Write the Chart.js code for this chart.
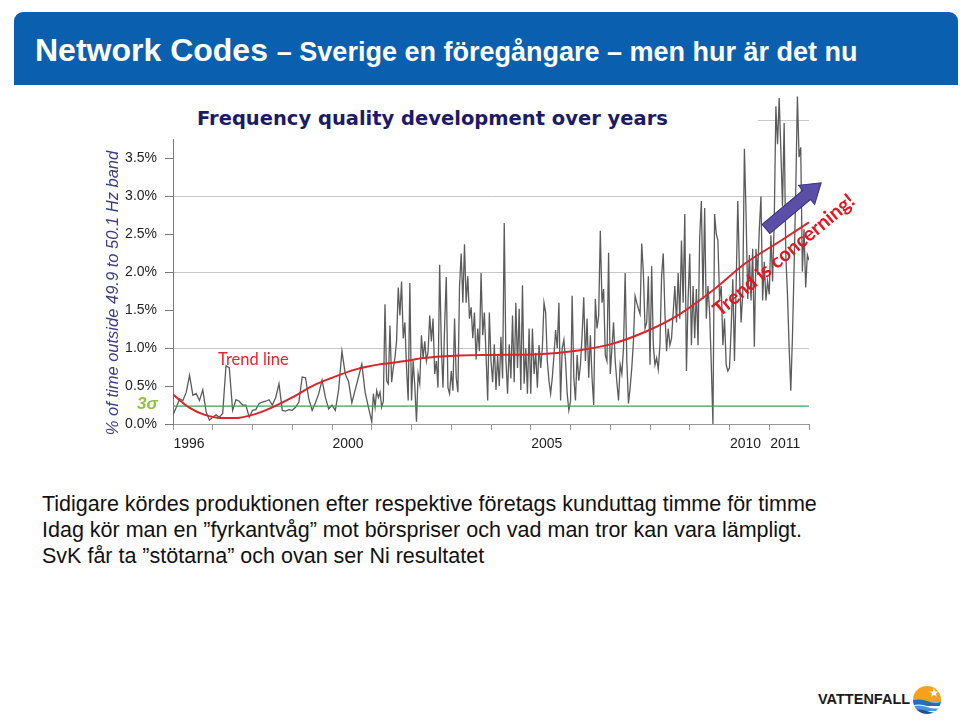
<!DOCTYPE html>
<html lang="sv">
<head>
<meta charset="utf-8">
<title>Network Codes – Sverige en föregångare</title>
<script src="https://cdn.jsdelivr.net/npm/chart.js@4.4.1/dist/chart.umd.min.js"></script>
<style>
  html, body { margin: 0; padding: 0; background: #fff; }
  body { width: 960px; height: 727px; position: relative; overflow: hidden; font-family: "Liberation Sans", Arial, sans-serif; }
  #header { position: absolute; left: 14px; top: 12px; width: 944px; height: 73px; background: #0a5fae; border-radius: 9px 9px 0 0; z-index: 5; color: #fff; }
  #header h1 { margin: 0; position: absolute; left: 21px; top: 20px; font-size: 32px; line-height: 37px; font-weight: bold; white-space: nowrap; }
  #header h1 span { font-size: 27px; }
  #chartBox { position: absolute; left: 0; top: 74px; width: 960px; height: 390px; }
  #chartMask { position: absolute; left: 95px; top: 84px; width: 663px; height: 55px; background: #fff; z-index: 2; }
  #chartTitle { position: absolute; left: 102px; top: 23px; margin: 0; font: bold 19.5px "DejaVu Sans", Verdana, sans-serif; color: #1d1a66; white-space: nowrap; line-height: 24px; }
  .note { position: absolute; white-space: nowrap; z-index: 3; }
  #yTitle { left: -38px; top: 283px; width: 300px; text-align: center; font: italic 16.5px "Liberation Sans", sans-serif; color: #3b3d80; line-height: 20px; transform: rotate(-90deg); }
  #sigma { left: 137px; top: 394px; font: italic bold 17px "Liberation Sans", sans-serif; color: #8cc43f; }
  #trendLabel { left: 218px; top: 349px; font: 16.5px Lato, sans-serif; color: #e3262d; }
  #concern { left: 683px; top: 242px; width: 200px; text-align: center; font: bold 20px Lato, sans-serif; color: #e2161e; transform: rotate(-40deg); }
  #arrow { position: absolute; left: 0; top: 0; z-index: 3; }
  .body-line { position: absolute; left: 42px; font-size: 21.5px; line-height: 24px; color: #111; white-space: nowrap; }
  #brand { position: absolute; left: 818px; top: 691px; font: bold 14.5px "Liberation Sans", sans-serif; color: #1b1b1b; }
  #logo { position: absolute; left: 911px; top: 684px; }
</style>
</head>
<body>
<div id="header"><h1>Network Codes <span>– Sverige en föregångare – men hur är det nu</span></h1></div>

<div id="chartBox"><canvas id="freqChart" width="960" height="390"></canvas></div>
<div id="chartMask"><p id="chartTitle">Frequency quality development over years</p></div>
<div id="yTitle" class="note">% of time outside 49.9 to 50.1 Hz band</div>
<div id="sigma" class="note">3σ</div>
<div id="trendLabel" class="note">Trend line</div>
<div id="concern" class="note">Trend is concerning!</div>
<svg id="arrow" width="960" height="727">
  <polygon transform="translate(766,229) rotate(-40)" points="0,-6 53,-6 53,-12.5 72,0 53,12.5 53,6 0,6" fill="#5a4ea6" stroke="#392f7e" stroke-width="1"/>
</svg>

<div class="body-line" style="top:492px">Tidigare kördes produktionen efter respektive företags kunduttag timme för timme</div>
<div class="body-line" style="top:518px">Idag kör man en ”fyrkantvåg” mot börspriser och vad man tror kan vara lämpligt.</div>
<div class="body-line" style="top:544px">SvK får ta ”stötarna” och ovan ser Ni resultatet</div>

<div id="brand">VATTENFALL</div>
<svg id="logo" width="32" height="32" viewBox="0 0 32 32">
  <defs><clipPath id="logoClip"><circle cx="16" cy="16" r="14"/></clipPath></defs>
  <g clip-path="url(#logoClip)">
    <rect x="0" y="0" width="32" height="18" fill="#f6a11c"/>
    <path d="M0 17 Q8 14 16 17 T32 17 V22 H0Z" fill="#2a6cb8"/>
    <path d="M0 22 Q8 19 16 22 T32 22 V26 H0Z" fill="#ffffff"/>
    <path d="M0 23 Q8 20 16 23 T32 23 V27 H0Z" fill="#4a95d8"/>
    <path d="M0 27 Q8 24 16 27 T32 27 V32 H0Z" fill="#1d4f9a"/>
  </g>
  <polygon points="23,4 24.2,7.4 27.8,7.4 24.9,9.5 26,12.9 23,10.8 20,12.9 21.1,9.5 18.2,7.4 21.8,7.4" fill="#fff"/>
</svg>

<script>
// % of time outside 49.9–50.1 Hz, monthly Jan 1996 – Dec 2000
const monthlyStart = 1996;
const monthlyShare = [
  0.12, 0.22, 0.33, 0.31, 0.42, 0.64, 0.38, 0.40, 0.31, 0.45, 0.16, 0.05, // 1996
  0.09, 0.12, 0.09, 0.14, 0.77, 0.74, 0.18, 0.32, 0.30, 0.25, 0.25, 0.09, // 1997
  0.18, 0.19, 0.27, 0.29, 0.30, 0.32, 0.25, 0.35, 0.53, 0.18, 0.17, 0.19, // 1998
  0.18, 0.22, 0.29, 0.62, 0.61, 0.33, 0.18, 0.28, 0.40, 0.58, 0.35, 0.20, // 1999
  0.25, 0.18, 0.45, 0.96, 0.66, 0.56, 0.28, 0.45, 0.62, 0.79, 0.42, 0.22  // 2000
];

// same measure, twice a month from Jan 2001 to Jan 2012
const halfMonthStart = 2001;
const halfMonthShare = [
  0.03, 0.40, 0.22, 0.44, 0.35, 0.42, 0.22, 0.30, 1.58, 0.57, 0.53, 1.30, 0.55, 0.74, 0.87, 1.10, 1.80, 1.43, 1.88, 1.13, 1.34, 0.74, 0.31, 1.86, // 2001
  0.31, 0.83, 0.50, 0.03, 0.66, 0.53, 1.17, 0.87, 1.09, 0.83, 0.95, 1.43, 1.09, 1.39, 0.66, 0.83, 0.48, 2.10, 1.04, 0.48, 1.30, 1.94, 0.48, 0.40, // 2002
  0.70, 0.44, 1.39, 0.61, 0.42, 1.82, 2.25, 1.60, 2.37, 1.60, 1.95, 1.39, 1.54, 1.13, 1.47, 0.85, 1.26, 0.96, 1.99, 1.17, 1.47, 0.91, 0.31, 1.47, // 2003
  0.83, 0.55, 1.05, 0.45, 0.90, 0.50, 1.15, 0.60, 2.65, 0.85, 0.40, 1.05, 0.60, 1.43, 0.55, 1.60, 0.74, 1.52, 0.45, 1.83, 0.53, 1.00, 0.40, 1.26, // 2004
  0.40, 1.26, 0.66, 0.94, 0.48, 1.04, 0.74, 1.00, 1.60, 1.47, 0.83, 0.57, 0.40, 0.61, 0.90, 1.24, 1.00, 1.60, 0.31, 1.00, 1.11, 0.83, 0.40, 0.18, // 2005
  0.30, 1.69, 0.61, 0.31, 0.91, 0.57, 0.78, 1.17, 1.67, 0.83, 1.39, 0.61, 1.17, 0.61, 0.25, 1.65, 1.26, 1.43, 2.55, 1.60, 1.78, 0.91, 0.83, 2.26, // 2006
  0.66, 1.00, 1.34, 0.83, 0.55, 0.31, 0.78, 0.66, 1.00, 1.99, 0.83, 0.27, 0.48, 0.74, 1.09, 1.69, 1.60, 1.52, 1.45, 2.38, 1.99, 1.26, 1.34, 1.95, // 2007
  0.78, 2.08, 1.04, 0.78, 0.87, 0.72, 1.04, 1.95, 2.25, 1.47, 0.96, 1.26, 1.04, 1.13, 1.47, 1.82, 1.34, 1.99, 1.39, 2.42, 1.60, 2.77, 0.70, 1.65, // 2008
  2.25, 1.04, 1.82, 1.13, 1.78, 1.04, 2.47, 2.94, 1.65, 2.85, 1.39, 1.82, 1.47, 0.78, 0.00, 2.77, 2.51, 2.42, 1.65, 1.82, 1.04, 1.39, 0.78, 0.70, // 2009
  0.74, 1.26, 1.91, 0.83, 1.82, 2.94, 2.03, 1.34, 1.73, 3.63, 2.77, 1.65, 2.23, 1.63, 2.31, 1.02, 2.31, 1.97, 2.57, 3.00, 1.63, 2.14, 1.63, 1.88, // 2010
  1.71, 2.49, 1.88, 2.66, 4.19, 3.69, 4.30, 3.61, 2.87, 3.97, 2.23, 1.71, 1.02, 0.44, 1.15, 2.06, 3.09, 4.32, 3.52, 3.65, 2.01, 2.57, 1.80, 2.23, // 2011
  2.16
];

// fitted trend
const trendYears = [1996.0, 1996.4, 1996.8, 1997.2, 1997.6, 1998.0, 1998.5, 1999.0, 1999.5, 2000.0, 2000.6, 2001.25, 2001.85, 2002.3, 2003.1, 2004.0, 2005.2, 2006.2, 2007.0, 2007.9, 2008.75, 2009.6, 2010.4, 2011.3, 2012.0];
const trendShare = [0.39, 0.22, 0.12, 0.08, 0.08, 0.12, 0.22, 0.35, 0.50, 0.61, 0.72, 0.79, 0.83, 0.87, 0.90, 0.91, 0.92, 0.97, 1.05, 1.22, 1.45, 1.77, 2.12, 2.42, 2.66];

const sigmaYears = [1996, 2012];
const sigmaShare = [0.236, 0.236];

const xLabelYears = [1996, 2000, 2005, 2010, 2011];

const measuredPoints = [
  ...monthlyShare.map((v, i) => ({ x: monthlyStart + i / 12, y: v })),
  ...halfMonthShare.map((v, i) => ({ x: halfMonthStart + i / 24, y: v }))
];
const trendPoints = trendYears.map((x, i) => ({ x, y: trendShare[i] }));
const sigmaPoints = sigmaYears.map((x, i) => ({ x, y: sigmaShare[i] }));

const tickFont = { family: "'Liberation Sans', Arial, sans-serif", size: 14 };

new Chart(document.getElementById("freqChart"), {
  type: "line",
  data: {
    datasets: [
      {
        label: "Trend line",
        data: trendPoints,
        borderColor: "#d9252b",
        borderWidth: 2,
        pointRadius: 0,
        cubicInterpolationMode: "monotone",
        order: 0
      },
      {
        label: "3σ",
        data: sigmaPoints,
        borderColor: "#3f9f5c",
        borderWidth: 1.3,
        pointRadius: 0,
        order: 1
      },
      {
        label: "Frequency quality",
        data: measuredPoints,
        borderColor: "#5b5b5b",
        borderWidth: 1.3,
        pointRadius: 0,
        tension: 0,
        order: 2
      }
    ]
  },
  options: {
    responsive: false,
    animation: false,
    layout: { padding: { left: 100, right: 151, top: 10, bottom: 10 } },
    plugins: { legend: { display: false }, tooltip: { enabled: false } },
    scales: {
      x: {
        type: "linear",
        min: 1996,
        max: 2012,
        afterFit: (scale) => { scale.height = 30; },
        border: { color: "#9a9a9a" },
        grid: { drawOnChartArea: false, tickLength: 6, tickColor: "#9a9a9a" },
        ticks: {
          stepSize: 1,
          autoSkip: false,
          maxRotation: 0,
          labelOffset: 16,
          padding: 6,
          color: "#1e1e1e",
          font: tickFont,
          callback: (v) => (xLabelYears.includes(v) ? String(v) : "")
        }
      },
      y: {
        min: 0,
        max: 4.4,
        afterFit: (scale) => { scale.width = 73; },
        border: { color: "#7a7a7a" },
        grid: {
          tickLength: 8,
          tickColor: "#7a7a7a",
          color: (c) => (c.tick && c.tick.value > 0 && Number.isInteger(c.tick.value) ? "#c8c8c8" : "rgba(0,0,0,0)")
        },
        ticks: {
          stepSize: 0.5,
          includeBounds: false,
          padding: 8,
          color: "#1e1e1e",
          font: tickFont,
          callback: (v) => (v <= 3.5 ? v.toFixed(1) + "%" : "")
        }
      }
    }
  }
});
</script>
</body>
</html>
